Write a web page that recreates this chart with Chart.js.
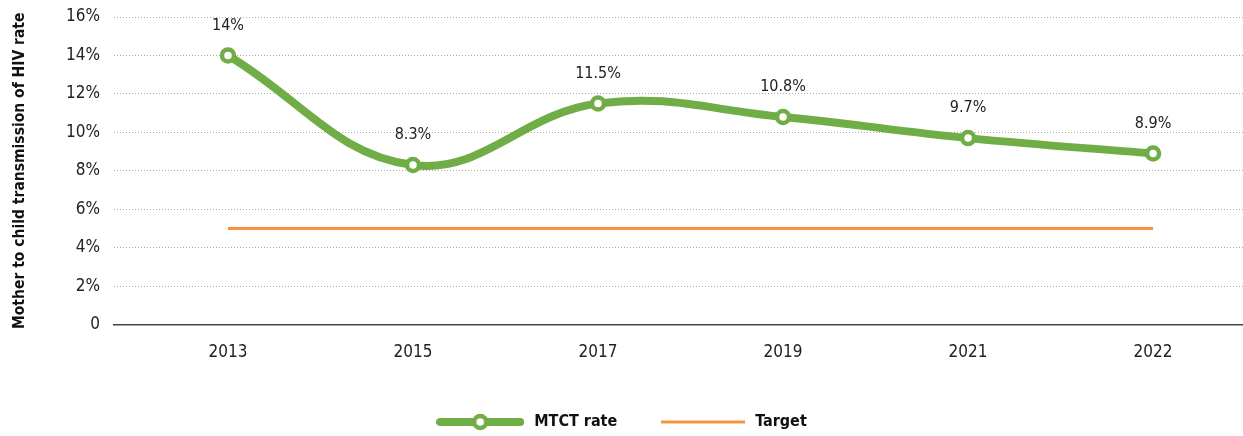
<!DOCTYPE html>
<html>
<head>
<meta charset="utf-8">
<script src="https://cdn.jsdelivr.net/npm/chart.js@4"></script>
<style>
  body { margin: 0; background: #fff; }
  #wrap { width: 1243px; height: 436px; }
</style>
</head>
<body>
<div id="wrap"><canvas id="mtctChart" width="1243" height="436"></canvas></div>
<script>
const years = ["2013", "2015", "2017", "2019", "2021", "2022"];
const mtctRate = [14, 8.3, 11.5, 10.8, 9.7, 8.9];
const mtctLabels = ["14%", "8.3%", "11.5%", "10.8%", "9.7%", "8.9%"];
const targetRate = [5, 5, 5, 5, 5, 5];

const FONT = "'DejaVu Sans Condensed', 'Liberation Sans Narrow', sans-serif";
const GREEN = "#70AD47";
const ORANGE = "#F5943F";

// legend icons
function lineIcon(w, color, lw, withDot) {
  const c = document.createElement("canvas");
  c.width = w; c.height = 20;
  const g = c.getContext("2d");
  g.strokeStyle = color;
  g.lineWidth = lw;
  g.lineCap = withDot ? "round" : "butt";
  g.beginPath();
  g.moveTo(withDot ? lw / 2 : 0, 10);
  g.lineTo(withDot ? w - lw / 2 : w, 10);
  g.stroke();
  if (withDot) {
    g.beginPath();
    g.arc(w / 2, 10, 6, 0, Math.PI * 2);
    g.fillStyle = "#fff";
    g.fill();
    g.lineWidth = 4.5;
    g.stroke();
  }
  return c;
}
const icons = [lineIcon(88, GREEN, 8, true), lineIcon(84, ORANGE, 3, false)];

const pointLabels = {
  id: "pointLabels",
  afterDatasetsDraw(chart) {
    const ctx = chart.ctx;
    const meta = chart.getDatasetMeta(0);
    ctx.save();
    ctx.font = "16px " + FONT;
    ctx.fillStyle = "#222";
    ctx.textAlign = "center";
    ctx.textBaseline = "middle";
    meta.data.forEach((pt, i) => {
      ctx.fillText(mtctLabels[i], pt.x, pt.y - 30);
    });
    ctx.restore();
  }
};

const bottomLegend = {
  id: "bottomLegend",
  afterDraw(chart) {
    const ctx = chart.ctx;
    ctx.save();
    ctx.font = "bold 16px " + FONT;
    const items = chart.data.datasets.map((ds, i) => ({
      text: ds.label,
      icon: icons[i],
      tw: ctx.measureText(ds.label).width
    }));
    const iconGap = 10, itemGap = 44;
    const total = items.reduce((s, it) => s + it.icon.width + iconGap + it.tw, 0) + itemGap * (items.length - 1);
    let x = chart.width / 2 - total / 2;
    const y = chart.height - 14;
    ctx.fillStyle = "#111";
    ctx.textBaseline = "middle";
    ctx.textAlign = "left";
    items.forEach(it => {
      ctx.drawImage(it.icon, x, y - it.icon.height / 2);
      x += it.icon.width + iconGap;
      ctx.fillText(it.text, x, y);
      x += it.tw + itemGap;
    });
    ctx.restore();
  }
};

new Chart(document.getElementById("mtctChart"), {
  type: "line",
  data: {
    datasets: [
      {
        label: "MTCT rate",
        data: mtctRate.map((v, i) => ({ x: i, y: v })),
        borderColor: GREEN,
        borderWidth: 8,
        tension: 0.4,
        pointRadius: 6,
        pointBorderWidth: 4.5,
        pointBackgroundColor: "#fff",
        pointBorderColor: GREEN,
        pointHoverRadius: 6,
        fill: false
      },
      {
        label: "Target",
        data: targetRate.map((v, i) => ({ x: i, y: v })),
        borderColor: ORANGE,
        borderWidth: 3,
        pointRadius: 0,
        fill: false
      }
    ]
  },
  options: {
    responsive: false,
    animation: false,
    clip: false,
    layout: { autoPadding: false, padding: { top: 17, right: 0, left: 0, bottom: 55 } },
    plugins: {
      tooltip: { enabled: false },
      legend: { display: false }
    },
    scales: {
      x: {
        type: "linear",
        min: -0.616,
        max: 5.486,
        afterBuildTicks(scale) {
          scale.ticks = years.map((_, i) => ({ value: i }));
        },
        ticks: {
          padding: 18,
          color: "#222",
          font: { family: FONT, size: 17 },
          callback: v => years[v]
        },
        grid: { display: false, drawTicks: false },
        border: { display: true, color: "#444", width: 1.5 }
      },
      y: {
        min: 0,
        max: 16,
        ticks: {
          stepSize: 2,
          padding: 14,
          color: "#222",
          font: { family: FONT, size: 17 },
          callback: v => v === 0 ? "0" : v + "%"
        },
        grid: { color: "#aaa", lineWidth: 1, drawTicks: false },
        border: { display: false, dash: [1, 2] },
        title: {
          display: true,
          text: "Mother to child transmission of HIV rate",
          color: "#111",
          font: { family: FONT, size: 15.5, weight: "bold" },
          padding: { top: 11, bottom: 0 }
        },
        afterFit(scale) {
          scale.width = 114;
          scale.paddingTop = 0;
        }
      }
    }
  },
  plugins: [pointLabels, bottomLegend]
});
</script>
</body>
</html>
